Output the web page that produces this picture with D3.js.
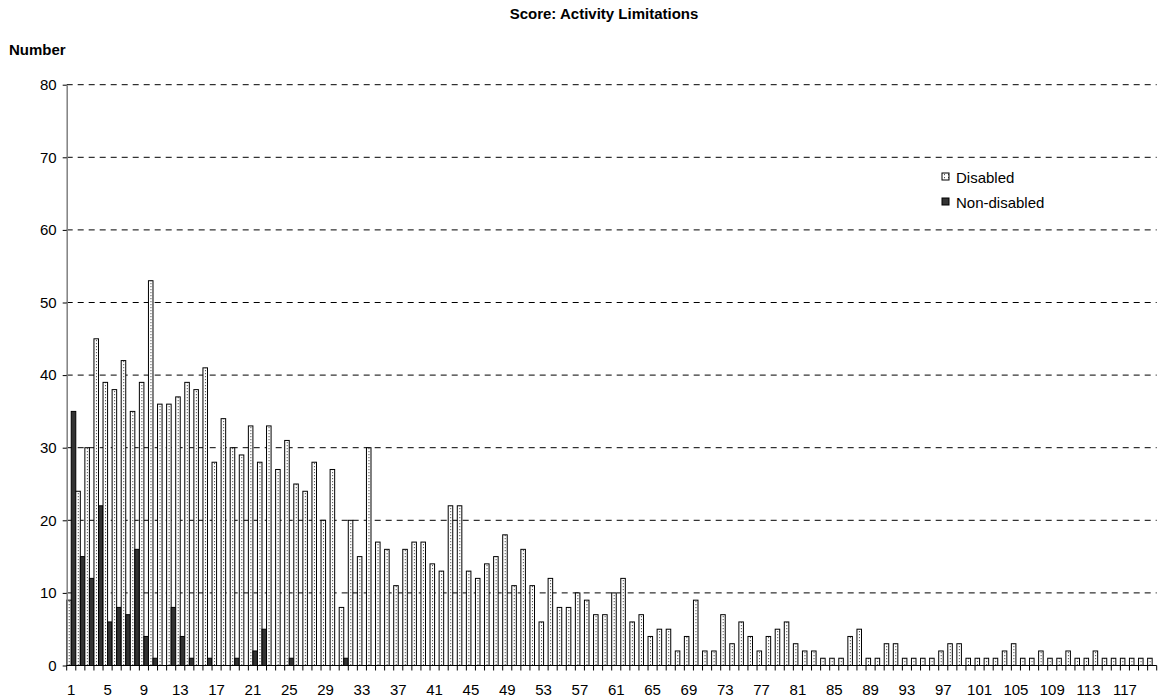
<!DOCTYPE html>
<html>
<head>
<meta charset="utf-8">
<script src="https://cdn.jsdelivr.net/npm/d3@7"></script>
<style>
  body { margin: 0; background: #fff; }
  svg { display: block; font-family: Arial, "Liberation Sans", sans-serif; }
</style>
</head>
<body>
<div id="chart"></div>
<script>
"use strict";

// Scores 1..120
const scores = d3.range(1, 121);

const disabled = [
    9, 24, 30, 45, 39, 38, 42, 35, 39, 53,
    36, 36, 37, 39, 38, 41, 28, 34, 30, 29,
    33, 28, 33, 27, 31, 25, 24, 28, 20, 27,
    8, 20, 15, 30, 17, 16, 11, 16, 17, 17,
    14, 13, 22, 22, 13, 12, 14, 15, 18, 11,
    16, 11, 6, 12, 8, 8, 10, 9, 7, 7,
    10, 12, 6, 7, 4, 5, 5, 2, 4, 9,
    2, 2, 7, 3, 6, 4, 2, 4, 5, 6,
    3, 2, 2, 1, 1, 1, 4, 5, 1, 1,
    3, 3, 1, 1, 1, 1, 2, 3, 3, 1,
    1, 1, 1, 2, 3, 1, 1, 2, 1, 1,
    2, 1, 1, 2, 1, 1, 1, 1, 1, 1
];

const nonDisabled = [
    35, 15, 12, 22, 6, 8, 7, 16, 4, 1,
    0, 8, 4, 1, 0, 1, 0, 0, 1, 0,
    2, 5, 0, 0, 1, 0, 0, 0, 0, 0,
    1, 0, 0, 0, 0, 0, 0, 0, 0, 0,
    0, 0, 0, 0, 0, 0, 0, 0, 0, 0,
    0, 0, 0, 0, 0, 0, 0, 0, 0, 0,
    0, 0, 0, 0, 0, 0, 0, 0, 0, 0,
    0, 0, 0, 0, 0, 0, 0, 0, 0, 0,
    0, 0, 0, 0, 0, 0, 0, 0, 0, 0,
    0, 0, 0, 0, 0, 0, 0, 0, 0, 0,
    0, 0, 0, 0, 0, 0, 0, 0, 0, 0,
    0, 0, 0, 0, 0, 0, 0, 0, 0, 0
];

const seriesNames = ["Disabled", "Non-disabled"];
const yTicks = [0, 10, 20, 30, 40, 50, 60, 70, 80];
const xLabels = scores.filter(d => (d - 1) % 4 === 0);

const width = 1164, height = 699;
const margin = { top: 84.7, right: 7.3, bottom: 33.5, left: 66.7 };
const fontFamily = "Arial, 'Liberation Sans', sans-serif";

const svg = d3.select("#chart").append("svg")
    .attr("width", width)
    .attr("height", height);

// Dotted fill for the disabled bars
const defs = svg.append("defs");
const pat = defs.append("pattern")
    .attr("id", "dots")
    .attr("patternUnits", "userSpaceOnUse")
    .attr("width", 4)
    .attr("height", 3);
pat.append("rect").attr("width", 4).attr("height", 3).attr("fill", "#fff");
pat.append("rect").attr("x", 2).attr("y", 1).attr("width", 1).attr("height", 1.2).attr("fill", "#555");

const xScale = d3.scaleBand()
    .domain(scores)
    .range([margin.left, width - margin.right])
    .padding(0);

const xSub = d3.scaleBand()
    .domain(seriesNames)
    .range([0, xScale.bandwidth()])
    .padding(0);

const yScale = d3.scaleLinear()
    .domain([0, 80])
    .range([height - margin.bottom, margin.top]);

// Title and axis caption
svg.append("text")
    .attr("x", 604)
    .attr("y", 19)
    .attr("text-anchor", "middle")
    .attr("font-size", 15)
    .attr("font-weight", "bold")
    .text("Score: Activity Limitations");

svg.append("text")
    .attr("x", 9)
    .attr("y", 55)
    .attr("font-size", 15)
    .attr("font-weight", "bold")
    .text("Number");

// Gridlines
svg.append("g")
    .selectAll("line")
    .data(yTicks.filter(d => d > 0))
    .join("line")
    .attr("x1", margin.left)
    .attr("x2", width - margin.right)
    .attr("y1", d => yScale(d))
    .attr("y2", d => yScale(d))
    .attr("stroke", "#000")
    .attr("stroke-width", 1)
    .attr("stroke-dasharray", "6,5");

// Bars
const rows = scores.map((s, i) => ({ score: s, values: [disabled[i], nonDisabled[i]] }));

const groups = svg.append("g")
    .selectAll("g")
    .data(rows)
    .join("g")
    .attr("transform", d => `translate(${xScale(d.score)},0)`);

groups.selectAll("rect")
    .data(d => seriesNames.map((n, j) => ({ name: n, value: d.values[j] })).filter(v => v.value > 0))
    .join("rect")
    .attr("x", d => xSub(d.name))
    .attr("y", d => yScale(d.value))
    .attr("width", xSub.bandwidth())
    .attr("height", d => yScale(0) - yScale(d.value))
    .attr("fill", d => d.name === "Disabled" ? "url(#dots)" : "#333")
    .attr("stroke", "#000")
    .attr("stroke-width", 1);

// Y axis
svg.append("g")
    .attr("transform", `translate(${margin.left},0)`)
    .call(d3.axisLeft(yScale).tickValues(yTicks).tickSize(4).tickPadding(6).tickSizeOuter(0))
    .call(g => g.select(".domain").attr("stroke", "#808080").attr("stroke-width", 1.5))
    .call(g => g.selectAll(".tick line").attr("stroke", "#000"))
    .call(g => g.selectAll(".tick text").attr("font-size", 15).attr("fill", "#000")
        .attr("font-family", fontFamily));

// X axis: tick marks at category boundaries, labels every 4th score
const xAxisG = svg.append("g")
    .attr("transform", `translate(0,${yScale(0)})`);

xAxisG.append("line")
    .attr("x1", margin.left)
    .attr("x2", width - margin.right)
    .attr("stroke", "#000");

xAxisG.selectAll(".bound")
    .data(scores.concat([null]))
    .join("line")
    .attr("class", "bound")
    .attr("x1", (d, i) => margin.left + i * xScale.step())
    .attr("x2", (d, i) => margin.left + i * xScale.step())
    .attr("y1", 0)
    .attr("y2", 5)
    .attr("stroke", "#000");

xAxisG.selectAll(".lbl")
    .data(xLabels)
    .join("text")
    .attr("class", "lbl")
    .attr("x", d => xScale(d) + xScale.bandwidth() / 2)
    .attr("y", 29)
    .attr("text-anchor", "middle")
    .attr("font-size", 15)
    .text(d => d);

// Legend
const legend = svg.append("g")
    .attr("transform", "translate(942,173)");

const item = legend.selectAll("g")
    .data(seriesNames)
    .join("g")
    .attr("transform", (d, i) => `translate(0,${i * 25})`);

item.append("rect")
    .attr("width", 7)
    .attr("height", 7)
    .attr("fill", (d, i) => i === 0 ? "url(#dots)" : "#333")
    .attr("stroke", "#000");

item.append("text")
    .attr("x", 14)
    .attr("y", 9.5)
    .attr("font-size", 15)
    .text(d => d);
</script>
</body>
</html>
